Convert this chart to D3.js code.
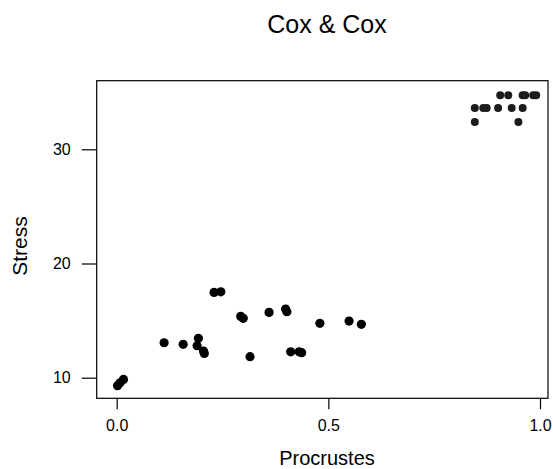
<!DOCTYPE html>
<html><head><meta charset="utf-8">
<script src="https://cdn.jsdelivr.net/npm/d3@7"></script>
<style>
body{margin:0;background:#fff;}
text{font-family:"Liberation Sans",Arial,Helvetica,sans-serif;fill:#000;}
</style></head>
<body>
<svg id="c" width="553" height="469"></svg>
<script>
const procrustes = [0.002,0.008,0.016,0.112,0.157,0.193,0.190,0.205,0.207,0.230,0.246,0.293,0.299,0.315,0.360,0.399,0.402,0.411,0.431,0.437,0.480,0.549,0.578,
  0.906,0.925,0.959,0.965,0.984,0.991,0.846,0.866,0.874,0.901,0.933,0.959,0.846,0.949];
const stress = [9.3,9.55,9.85,13.06,12.92,13.45,12.8,12.34,12.13,17.47,17.52,15.37,15.2,11.84,15.72,16.01,15.78,12.27,12.27,12.19,14.76,14.96,14.67,
  34.73,34.73,34.73,34.73,34.73,34.73,33.62,33.62,33.62,33.62,33.62,33.62,32.4,32.4];
const xTicks = [0, 0.5, 1.0];
const xTickLabels = ["0.0","0.5","1.0"];
const yTicks = [10, 20, 30];
const yTickLabels = ["10","20","30"];
const title = "Cox & Cox";
const xLabel = "Procrustes";
const yLabel = "Stress";

const svg = d3.select("#c");
const x = d3.scaleLinear().domain([0,1]).range([116.7,540]);
const y = d3.scaleLinear().domain([10,30]).range([377.7,149.3]);
const box = {l:96.7, t:80.7, r:548, b:398.3};

svg.append("rect").attr("x",box.l).attr("y",box.t).attr("width",box.r-box.l).attr("height",box.b-box.t)
  .attr("fill","none").attr("stroke","#000").attr("stroke-width",1.2);

const xa = d3.axisBottom(x).tickValues(xTicks).tickFormat((d,i)=>xTickLabels[i]).tickSizeInner(11).tickSizeOuter(0).tickPadding(10);
const gx = svg.append("g").attr("transform",`translate(0,${box.b})`).call(xa);
gx.select(".domain").remove();
gx.selectAll("line").attr("stroke","#000").attr("stroke-width",1.2);
gx.selectAll("text").style("font-size","16px").attr("font-family",null).attr("fill","#000");

const ya = d3.axisLeft(y).tickValues(yTicks).tickFormat((d,i)=>yTickLabels[i]).tickSizeInner(15).tickSizeOuter(0).tickPadding(11);
const gy = svg.append("g").attr("transform",`translate(${box.l},0)`).call(ya);
gy.select(".domain").remove();
gy.selectAll("line").attr("stroke","#000").attr("stroke-width",1.2);
gy.selectAll("text").style("font-size","16px").attr("font-family",null).attr("fill","#000");

svg.append("g").selectAll("circle").data(procrustes.map((p,i)=>[p,stress[i]])).join("circle")
  .attr("cx",d=>x(d[0])).attr("cy",d=>y(d[1])).attr("r",d=>d[1]>30?4.0:4.6)
  .attr("fill",d=>d[1]>30?"#1c1c1c":"#000");

svg.append("text").attr("x",327).attr("y",33).attr("text-anchor","middle").style("font-size","25px").text(title);
svg.append("text").attr("x",327).attr("y",465).attr("text-anchor","middle").style("font-size","20px").text(xLabel);
svg.append("text").attr("transform","translate(27,246) rotate(-90)").attr("text-anchor","middle").style("font-size","21px").text(yLabel);
</script>
</body></html>
